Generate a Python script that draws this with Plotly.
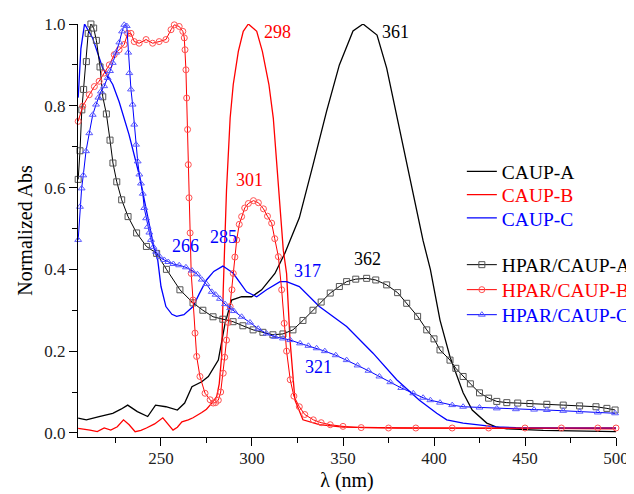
import plotly.graph_objects as go

# ---------------- data ----------------
caup_a_x = [204.5, 209, 216, 223.5, 228, 231.7, 237, 242.7, 247, 252.7, 259, 263, 267, 272.4, 276,
            281.5, 285.2, 288.8, 294.3, 299.8, 305.3, 312.6, 318, 326, 333.5, 341, 348, 355.5, 361,
            368.7, 374, 381, 388.5, 394, 398, 403.3, 408.8, 416, 421, 429, 434, 440, 460, 480, 500]
caup_a_y = [0.036, 0.032, 0.04, 0.048, 0.058, 0.068, 0.052, 0.04, 0.068, 0.064, 0.056, 0.073, 0.113,
            0.125, 0.138, 0.178, 0.268, 0.325, 0.333, 0.333, 0.35, 0.39, 0.439, 0.526, 0.655, 0.787,
            0.90, 0.983, 1.0, 0.973, 0.892, 0.746, 0.59, 0.47, 0.40, 0.276, 0.186, 0.098, 0.056,
            0.024, 0.015, 0.01, 0.006, 0.004, 0.003]

caup_b_x = [204.5, 208, 211, 215, 218.8, 222.4, 226, 229.4, 232.5, 235.8, 239, 242, 246.5, 251, 254,
            256.6, 259, 261.5, 265, 267.6, 272.4, 275, 277.9, 280.6, 282, 283.3, 284.2, 285.5, 286,
            288, 289.7, 292.5, 295.2, 298, 302.6, 305.7, 309.3, 311.7, 314.8, 317.2, 319, 320.9,
            323.6, 328, 337, 350, 380, 420, 460, 500]
caup_b_y = [0.011, 0.009, 0.007, 0.003, 0.012, 0.007, 0.015, 0.032, 0.02, 0.003, 0.006, 0.012, 0.022,
            0.037, 0.02, 0.007, 0.014, 0.027, 0.032, 0.037, 0.05, 0.058, 0.073, 0.089, 0.12, 0.187,
            0.35, 0.513, 0.594, 0.77, 0.852, 0.933, 0.982, 1.0, 0.982, 0.933, 0.852, 0.77, 0.575,
            0.447, 0.39, 0.227, 0.08, 0.032, 0.02, 0.014, 0.012, 0.012, 0.011, 0.01]

caup_c_x = [204.5, 206, 208, 212.4, 218, 223.5, 227, 232.4, 238, 241, 244, 246.3, 248.2, 250, 252.7,
            256, 258.6, 262.6, 267.6, 271, 275, 279, 284, 289.6, 293, 297, 302.6, 308, 315.4, 319,
            326, 337, 352, 366.5, 379.5, 392, 401.5, 407, 416, 425, 434, 445, 460, 480, 500]
caup_c_y = [0.82, 0.94, 1.0, 0.966, 0.892, 0.852, 0.81, 0.73, 0.632, 0.57, 0.5, 0.45, 0.423, 0.358,
            0.309, 0.29, 0.285, 0.289, 0.309, 0.34, 0.374, 0.395, 0.408, 0.391, 0.37, 0.345, 0.333,
            0.35, 0.37, 0.37, 0.358, 0.309, 0.26, 0.195, 0.13, 0.08, 0.048, 0.032, 0.024, 0.019,
            0.015, 0.013, 0.012, 0.012, 0.012]

hpar_a_x = [204.5, 205.5, 206.5, 207.5, 209, 210, 211.5, 213, 214.5, 216.5, 218, 220, 222, 223.6,
            225.7, 228.4, 231.9, 236.6, 242, 247.6, 253, 260.4, 267.6, 273, 278.6, 284, 289.6, 295,
            300.6, 306, 311.5, 317, 322.5, 328, 333.5, 338, 343, 348, 352, 357, 363, 368, 374, 380,
            385, 391, 396, 400, 403.3, 408.8, 412, 416, 420, 425, 430, 434.5, 440, 446, 452.7, 462,
            471, 480, 489, 495, 499.5]
hpar_a_y = [0.62, 0.69, 0.79, 0.84, 0.908, 0.977, 1.0, 0.99, 0.96, 0.895, 0.822, 0.78, 0.716, 0.66,
            0.614, 0.57, 0.529, 0.489, 0.456, 0.439, 0.40, 0.35, 0.318, 0.30, 0.284, 0.278, 0.272,
            0.262, 0.252, 0.246, 0.24, 0.242, 0.252, 0.275, 0.30, 0.32, 0.342, 0.358, 0.37, 0.376,
            0.378, 0.374, 0.362, 0.343, 0.317, 0.285, 0.252, 0.23, 0.203, 0.178, 0.158, 0.138, 0.12,
            0.098, 0.085, 0.077, 0.074, 0.073, 0.072, 0.07, 0.068, 0.066, 0.064, 0.06, 0.056]

hpar_b_x = [204.5, 207, 210.6, 213.4, 216, 218.8, 221.6, 224.3, 227, 229.8, 231.7, 233.5, 235.3, 238,
            241.8, 245.4, 249, 252.7, 255.5, 257.3, 260, 262, 262.8, 263.2, 263.7, 264.1, 264.6, 265,
            265.4, 266, 266.6, 267.6, 268.7, 269.6, 271.4, 274.2, 277, 278.7, 280, 281.5, 282.8,
            284.2, 285, 286, 287, 288, 289, 289.7, 290.6, 291.6, 293, 294.3, 296, 298, 300.8, 303.5,
            306.3, 308.5, 310.8, 312.5, 314.5, 316.3, 317.7, 319, 321, 323, 326, 329, 333.7, 338,
            343, 350, 360, 375, 390, 410, 430, 450, 470, 490, 500]
hpar_b_y = [0.762, 0.799, 0.827, 0.847, 0.86, 0.88, 0.90, 0.925, 0.937, 0.95, 0.977, 0.977, 0.957,
            0.953, 0.962, 0.953, 0.957, 0.962, 0.986, 0.998, 0.994, 0.982, 0.966, 0.937, 0.888, 0.819,
            0.742, 0.656, 0.575, 0.489, 0.39, 0.325, 0.244, 0.187, 0.138, 0.097, 0.081, 0.073, 0.074,
            0.08, 0.1, 0.146, 0.185, 0.227, 0.27, 0.309, 0.35, 0.39, 0.43, 0.472, 0.51, 0.529, 0.55,
            0.561, 0.568, 0.563, 0.548, 0.53, 0.513, 0.475, 0.431, 0.35, 0.268, 0.2, 0.13, 0.09,
            0.064, 0.045, 0.032, 0.025, 0.02, 0.016, 0.013, 0.012, 0.012, 0.012, 0.012, 0.012,
            0.012, 0.012, 0.012]

hpar_c_x = [204.5, 205.5, 206.4, 207.3, 208.8, 210.6, 212.5, 214.3, 215.6, 217, 218.8, 220.7, 222,
            223.5, 225.3, 227.1, 228.6, 229.8, 231.2, 232, 232.6, 233.5, 234.4, 235.3, 236.3, 237.2,
            238.1, 239, 240, 240.8, 241.8, 242.7, 243.6, 244.5, 245.8, 247.3, 249.5, 251.8, 254,
            256.8, 260, 263.7, 267, 270, 272.4, 275, 277.9, 280, 282.4, 285.2, 288, 290, 294.3,
            298.9, 303.4, 308, 312.6, 317, 321, 326.4, 331, 335.5, 340, 346, 352, 358, 364, 370,
            376, 382, 388.6, 394, 398, 403.3, 410, 416, 425, 434.5, 445, 455, 462, 471, 480, 490,
            499.5]
hpar_c_y = [0.472, 0.553, 0.598, 0.63, 0.689, 0.733, 0.778, 0.803, 0.82, 0.835, 0.848, 0.868, 0.885,
            0.905, 0.93, 0.955, 0.982, 0.998, 0.995, 0.93, 0.88, 0.84, 0.803, 0.754, 0.705, 0.664,
            0.632, 0.61, 0.585, 0.55, 0.525, 0.504, 0.49, 0.472, 0.455, 0.443, 0.43, 0.423, 0.418,
            0.413, 0.41, 0.405, 0.397, 0.388, 0.375, 0.364, 0.345, 0.338, 0.328, 0.315, 0.305,
            0.298, 0.284, 0.27, 0.255, 0.243, 0.235, 0.231, 0.227, 0.219, 0.213, 0.207, 0.2, 0.19,
            0.178, 0.165, 0.152, 0.138, 0.124, 0.11, 0.097, 0.086, 0.08, 0.074, 0.068, 0.064,
            0.062, 0.06, 0.058, 0.057, 0.056, 0.054, 0.052, 0.05, 0.048]

peak_labels = ["361", "298", "301", "266", "285", "317", "321", "362"]
peak_label_x = [379.1, 314.0, 298.9, 263.2, 284.6, 330.5, 336.8, 363.2]
peak_label_y = [0.98, 0.98, 0.619, 0.457, 0.479, 0.397, 0.161, 0.425]
peak_label_colors = ["black", "red", "red", "blue", "blue", "blue", "blue", "black"]

x_ticks = [250, 300, 350, 400, 450, 500]
y_ticks = [0.0, 0.2, 0.4, 0.6, 0.8, 1.0]

FONT = "Liberation Serif"

def lname(text, color):
    return f"<span style='color:{color}'>{text}</span>"

fig = go.Figure()

legend_y = [0.6632, 0.6152, 0.5673, 0.4712, 0.4198, 0.3683]
legend_ids = ["legend", "legend2", "legend3", "legend4", "legend5", "legend6"]

series = [
    (caup_a_x, caup_a_y, "#000000", None, None, "CAUP-A"),
    (caup_b_x, caup_b_y, "#ff0000", None, None, "CAUP-B"),
    (caup_c_x, caup_c_y, "#0000ff", None, None, "CAUP-C"),
    (hpar_a_x, hpar_a_y, "#000000", "#555555", "square-open", "HPAR/CAUP-A"),
    (hpar_b_x, hpar_b_y, "#ff0000", "#ff5050", "circle-open", "HPAR/CAUP-B"),
    (hpar_c_x, hpar_c_y, "#0000ff", "#5a5aff", "triangle-up-open", "HPAR/CAUP-C"),
]

for i, (xs, ys, col, mcol, sym, nm) in enumerate(series):
    if sym is None:
        fig.add_trace(go.Scatter(x=xs, y=ys, mode="lines", name=lname(nm, col),
                                 line=dict(color=col, width=1.3), legend=legend_ids[i],
                                 cliponaxis=False))
    else:
        fig.add_trace(go.Scatter(x=xs, y=ys, mode="lines+markers", name=lname(nm, col),
                                 line=dict(color=col, width=1),
                                 marker=dict(symbol=sym, size=6, color=mcol,
                                             line=dict(color=mcol, width=1)),
                                 legend=legend_ids[i], cliponaxis=False))

for t, xv, yv, c in zip(peak_labels, peak_label_x, peak_label_y, peak_label_colors):
    fig.add_annotation(x=xv, y=yv, xref="x", yref="y", text=t, showarrow=False,
                       font=dict(family=FONT, size=18, color=c))

axis_common = dict(showline=True, linecolor="black", linewidth=1.3, ticks="outside",
                   ticklen=8, tickwidth=1.3, tickcolor="black", showgrid=False, zeroline=False,
                   mirror=False, tickfont=dict(family=FONT, size=17, color="#222"),
                   automargin=False)

legend_layouts = {}
for lid, ly in zip(legend_ids, legend_y):
    legend_layouts[lid] = dict(x=0.725, y=ly, xref="container", yref="container",
                               xanchor="left", yanchor="middle",
                               bgcolor="rgba(0,0,0,0)", font=dict(family=FONT, size=19.5),
                               itemwidth=30)

# page body has an 8px margin, so the figure is 8px smaller than the window
fig.update_layout(
    width=626, height=486,
    margin=dict(l=70, r=18, t=16, b=57, autoexpand=False),
    paper_bgcolor="white", plot_bgcolor="white",
    font=dict(family=FONT, size=17, color="black"),
    xaxis=dict(range=[204.4, 500], tickvals=x_ticks, ticklabelstandoff=-3,
               minor=dict(ticks="outside", ticklen=5, tickwidth=1.3, tickcolor="black", dtick=25, tick0=225),
               title=dict(text="λ (nm)", font=dict(family=FONT, size=20), standoff=6),
               **axis_common),
    yaxis=dict(range=[-0.01, 1.0], tickvals=y_ticks, tickformat=".1f",
               minor=dict(ticks="outside", ticklen=5, tickwidth=1.3, tickcolor="black", dtick=0.1, tick0=0),
               title=dict(text="Normalized Abs", font=dict(family=FONT, size=20), standoff=6),
               **axis_common),
    showlegend=True,
    **legend_layouts,
)

fig.write_html("out.html")
